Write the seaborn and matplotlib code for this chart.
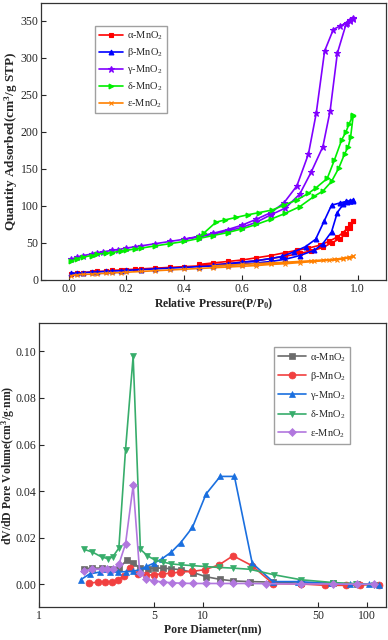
import numpy as np
import matplotlib
matplotlib.use("Agg")
import matplotlib.pyplot as plt
import seaborn as sns
from matplotlib.ticker import NullLocator, FixedLocator, FixedFormatter

# ---- datos: isotermas (adsorcion + desorcion) ----
a_ads_p = [0.01,0.03,0.05,0.08,0.10,0.13,0.15,0.18,0.20,0.23,0.25,0.30,0.35,0.40,0.45,0.50,0.55,0.60,0.65,0.70,0.75,0.80,0.84,0.88,0.91,0.94,0.96,0.975,0.985]
a_ads_q = [8,9,10,11,11.5,12,13,13.5,14,14.5,15,16,17,18,19,20.5,22,24,26,29,32,36,39,44,50,56,62,70,79]
a_des_p = [0.985,0.975,0.965,0.95,0.93,0.90,0.87,0.83,0.79,0.75,0.70,0.65,0.60,0.55,0.50,0.45]
a_des_q = [80,76,70,64,58,52,47,43,40,37,33,30,27,25,23,21]

b_ads_p = [0.01,0.03,0.05,0.08,0.10,0.13,0.15,0.18,0.20,0.25,0.30,0.35,0.40,0.45,0.50,0.55,0.60,0.65,0.70,0.75,0.80,0.85,0.88,0.91,0.93,0.95,0.965,0.975,0.985]
b_ads_q = [9,9.5,10,10.5,11,11.5,12,12.5,13,14,15,16,17,18,19,20,21.5,23,25,28,33,40,49,65,91,102,105,106,107]
b_des_p = [0.985,0.975,0.96,0.94,0.91,0.885,0.855,0.82,0.78,0.74,0.70,0.65,0.60,0.55,0.50]
b_des_q = [108,107,106,104,101,80,55,45,38,32,29,26,24,22,20]

g_ads_p = [0.01,0.03,0.05,0.08,0.10,0.12,0.15,0.17,0.20,0.23,0.25,0.30,0.35,0.40,0.45,0.50,0.55,0.60,0.65,0.70,0.75,0.80,0.84,0.88,0.905,0.93,0.96,0.975,0.985]
g_ads_q = [28,31,33,35,37,38,40,41,43,45,46,49,52,55,58,62,66,71,78,88,97,116,146,180,228,306,345,350,352]
g_des_p = [0.985,0.975,0.962,0.94,0.916,0.886,0.857,0.83,0.79,0.745,0.70,0.65,0.60,0.55,0.50,0.45,0.40]
g_des_q = [353,351,347,343,338,309,225,170,127,104,91,82,74,68,63,59,55]

d_ads_p = [0.01,0.03,0.05,0.08,0.10,0.13,0.15,0.18,0.20,0.23,0.25,0.30,0.35,0.40,0.45,0.50,0.55,0.60,0.65,0.70,0.75,0.80,0.85,0.88,0.91,0.935,0.955,0.968,0.976,0.985]
d_ads_q = [26,29,31,33,35,36,37,39,40,42,43,46,49,52,56,60,64,69,75,82,90,99,113,120,133,151,170,180,193,222]
d_des_p = [0.985,0.97,0.96,0.945,0.92,0.895,0.855,0.83,0.79,0.745,0.705,0.66,0.62,0.58,0.54,0.51,0.47,0.45]
d_des_q = [223,210,200,189,162,137,124,117,108,101,94.5,91,88,84.5,81,78,64,58]

e_ads_p = [0.01,0.03,0.05,0.08,0.10,0.13,0.15,0.18,0.20,0.25,0.30,0.35,0.40,0.45,0.50,0.55,0.60,0.65,0.70,0.75,0.80,0.85,0.90,0.93,0.95,0.97,0.985]
e_ads_q = [6,7,7.5,8,8.5,9,9.5,10,10.5,11.5,12.5,13.5,14.5,15.5,16.5,17.5,18.5,19.5,21,22,23.5,25,26.5,27.5,28.5,30,32]
e_des_p = [0.985,0.97,0.95,0.92,0.88,0.84,0.80,0.75,0.70,0.65,0.60,0.55,0.50]
e_des_q = [32,31,29.5,28,27,26,25,24,23,22,21,20,19]

# ---- datos: distribucion de poros ----
a_d = [1.88,2.11,2.40,2.70,3.06,3.41,3.74,4.10,4.60,5.06,5.69,6.40,7.37,8.70,10.4,12.6,15.2,19.2,26.6,39.5,61.7,87]
a_v = [0.0067,0.0069,0.0069,0.0067,0.0069,0.0102,0.0093,0.0069,0.0067,0.0069,0.0069,0.0066,0.0062,0.0050,0.0032,0.0021,0.0014,0.0011,0.0009,0.0004,0.0004,0.0001]
b_d = [2.02,2.27,2.51,2.79,3.03,3.28,3.60,4.00,4.46,5.00,5.60,6.33,7.20,8.56,10.2,12.5,15.2,19.9,26.6,39.5,55,74,90,118]
b_v = [0.0004,0.0009,0.0010,0.0011,0.0016,0.0037,0.0069,0.0042,0.0038,0.0041,0.0044,0.0047,0.0052,0.0055,0.0062,0.0083,0.0122,0.0079,0.0002,0.0001,-0.0005,-0.0005,-0.0003,-0.0003]
g_d = [1.79,2.03,2.34,2.69,3.02,3.37,3.74,4.10,4.50,5.00,5.60,6.40,7.30,8.60,10.4,12.7,15.5,19.9,26.6,37.9,60,78,103,118]
g_v = [0.0019,0.0044,0.0052,0.0052,0.0052,0.0054,0.0056,0.0062,0.0076,0.0090,0.0109,0.0138,0.0179,0.0244,0.0387,0.0463,0.0463,0.0090,0.0011,0.0011,0.0003,0.0001,0.0000,-0.0004]
d_d = [1.87,2.11,2.40,2.61,2.80,3.06,3.36,3.74,4.14,4.57,5.07,5.69,6.40,7.37,8.50,10.2,12.4,15.2,19.2,27.2,39.5,61.7,85,110]
d_v = [0.0150,0.0138,0.0117,0.0110,0.0116,0.0155,0.0577,0.0979,0.0150,0.0122,0.0104,0.0095,0.0087,0.0083,0.0080,0.0076,0.0072,0.0069,0.0064,0.0040,0.0019,0.0007,0.0002,-0.0003]
e_d = [1.88,2.11,2.40,2.59,2.82,3.06,3.36,3.74,4.10,4.50,5.00,5.70,6.45,7.40,8.70,10.4,12.6,15.2,18.7,24.2,39.5,61.7,87,110]
e_v = [0.0057,0.0064,0.0064,0.0064,0.0064,0.0085,0.0173,0.0424,0.0050,0.0022,0.0014,0.0009,0.0006,0.0004,0.0003,0.0003,0.0003,0.0003,0.0003,0.0002,0.0001,0.0001,0.0000,0.0000]

nombres = ['α-MnO$_2$', 'β-MnO$_2$', 'γ-MnO$_2$', 'δ-MnO$_2$', 'ε-MnO$_2$']

sns.set_style("ticks")
plt.rcParams['font.family'] = ['Liberation Serif', 'DejaVu Serif']
plt.rcParams['mathtext.fontset'] = 'custom'
plt.rcParams['mathtext.rm'] = 'Liberation Serif'
plt.rcParams['mathtext.it'] = 'Liberation Serif:italic'
plt.rcParams['mathtext.bf'] = 'Liberation Serif:bold'
plt.rcParams['xtick.direction'] = 'in'
plt.rcParams['ytick.direction'] = 'in'

fig = plt.figure(figsize=(3.88, 6.4), dpi=100)
ax1 = fig.add_axes([0.106, 0.5625, 0.890, 0.433])
ax2 = fig.add_axes([0.101, 0.0516, 0.895, 0.444])

# 1. Isotermas
iso = [
    (a_ads_p + a_des_p, a_ads_q + a_des_q, '#FF0000', 's', 3),
    (b_ads_p + b_des_p, b_ads_q + b_des_q, '#0000FF', '^', 3.5),
    (g_ads_p + g_des_p, g_ads_q + g_des_q, '#8000FF', '*', 4.5),
    (d_ads_p + d_des_p, d_ads_q + d_des_q, '#00EE00', '>', 3.5),
    (e_ads_p + e_des_p, e_ads_q + e_des_q, '#FF8000', 'x', 3),
]
for (p, q, c, m, ms), nom in zip(iso, nombres):
    sns.lineplot(x=p, y=q, sort=False, estimator=None, color=c, marker=m,
                 markersize=ms, markeredgecolor=c, markeredgewidth=0.8,
                 linewidth=1.2, label=nom, ax=ax1)

ax1.set_xlim(-0.095, 1.1)
ax1.set_ylim(0, 374)
ax1.set_xticks([0.0, 0.2, 0.4, 0.6, 0.8, 1.0])
ax1.set_yticks([0, 50, 100, 150, 200, 250, 300, 350])
ax1.set_xlabel(r'Relative Pressure(P/P$_\mathbf{0}$)', fontsize=8.5, fontweight='bold', labelpad=1)
ax1.set_ylabel(r'Quantity Adsorbed(cm$^\mathbf{3}$/g STP)', fontsize=9.5, fontweight='bold')
ax1.yaxis.set_label_coords(-0.062, 0.5)
ax1.legend(loc='upper left', bbox_to_anchor=(0.157, 0.917), borderaxespad=0, fontsize=7.5,
           frameon=True, fancybox=False, edgecolor='#888888', handlelength=2.3, numpoints=1,
           labelspacing=0.4, borderpad=0.35, handletextpad=0.4)

# 2. Distribucion de tamano de poro
psd = [
    (a_d, a_v, '#6B6B6B', 's'),
    (b_d, b_v, '#F14040', 'o'),
    (g_d, g_v, '#1A6FDF', '^'),
    (d_d, d_v, '#37AD6B', 'v'),
    (e_d, e_v, '#B177DE', 'D'),
]
for (dd, vv, c, m), nom in zip(psd, nombres):
    sns.lineplot(x=dd, y=vv, sort=False, estimator=None, color=c, marker=m,
                 markersize=5 if m != 'D' else 4.3, markeredgecolor=c, markeredgewidth=0.5,
                 linewidth=1.2, label=nom, ax=ax2)

ax2.set_xscale('log')
ax2.set_xlim(1, 131)
ax2.set_ylim(-0.0098, 0.1123)
ax2.xaxis.set_major_locator(FixedLocator([1, 5, 10, 50, 100]))
ax2.xaxis.set_major_formatter(FixedFormatter(['1', '5', '10', '50', '100']))
ax2.xaxis.set_minor_locator(NullLocator())
ax2.set_yticks([0.00, 0.02, 0.04, 0.06, 0.08, 0.10])
ax2.set_yticklabels(['0.00', '0.02', '0.04', '0.06', '0.08', '0.10'])
ax2.set_xlabel('Pore Diameter(nm)', fontsize=8.5, fontweight='bold', labelpad=1)
ax2.set_ylabel(r'dV/dD Pore Volume(cm$^\mathbf{3}$/g$\cdot$nm)', fontsize=8.5, fontweight='bold')
ax2.yaxis.set_label_coords(-0.064, 0.5)
ax2.legend(loc='upper right', bbox_to_anchor=(0.895, 0.915), borderaxespad=0, fontsize=7.5,
           frameon=True, fancybox=False, edgecolor='#888888', handlelength=2.6, numpoints=1,
           labelspacing=0.6, borderpad=0.4, handletextpad=0.4)

for ax in (ax1, ax2):
    for s in ax.spines.values():
        s.set_linewidth(0.9)
        s.set_color('#333333')
    ax.tick_params(labelsize=8.5, length=3.5, width=0.8, pad=2)

fig.savefig('out.png', dpi=100)
